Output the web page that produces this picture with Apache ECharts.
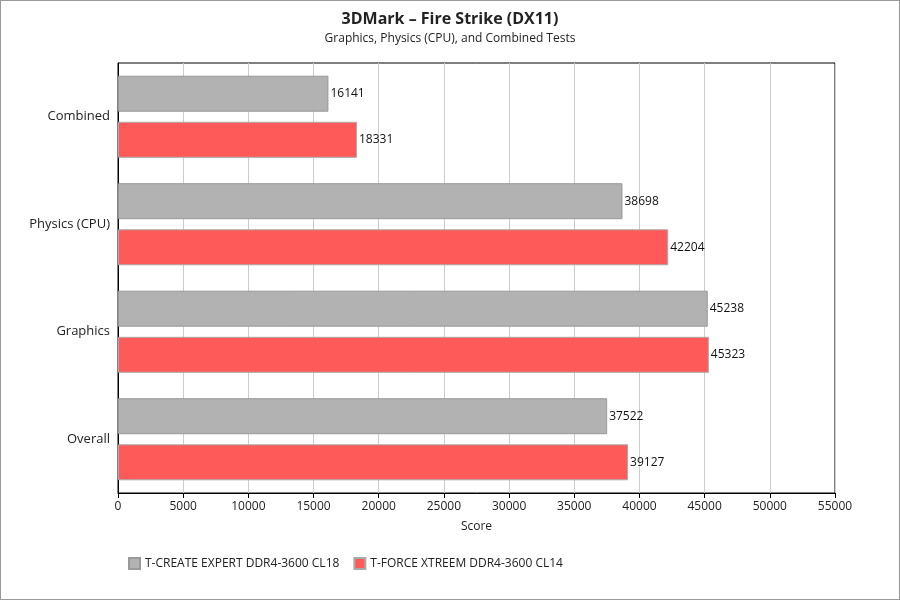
<!DOCTYPE html>
<html>
<head>
<meta charset="utf-8">
<script src="https://cdn.jsdelivr.net/npm/echarts@6/dist/echarts.min.js"></script>
<style>
  html, body { margin: 0; padding: 0; background: #fff; }
  #chart { width: 898px; height: 598px; border: 1px solid #999; }
</style>
</head>
<body>
<div id="chart"></div>
<script>
const categories = ['Overall', 'Graphics', 'Physics (CPU)', 'Combined'];
const createExpert = [37522, 45238, 38698, 16141];
const forceXtreem = [39127, 45323, 42204, 18331];
const seriesNames = ['T-CREATE EXPERT DDR4-3600 CL18', 'T-FORCE XTREEM DDR4-3600 CL14'];

const chart = echarts.init(document.getElementById('chart'), null, { renderer: 'canvas' });
const font = 'Open Sans';

chart.setOption({
  textStyle: { fontFamily: font },
  title: {
    text: '3DMark – Fire Strike (DX11)',
    subtext: 'Graphics, Physics (CPU), and Combined Tests',
    left: 'center',
    top: 5,
    itemGap: 6,
    textStyle: { fontFamily: font, fontSize: 16, fontWeight: 'bold', color: '#222' },
    subtextStyle: { fontFamily: font, fontSize: 12, color: '#222' }
  },
  legend: {
    data: seriesNames,
    left: 122,
    bottom: 24,
    itemWidth: 11,
    itemHeight: 11,
    itemGap: 14,
    icon: 'rect',
    textStyle: { fontFamily: font, fontSize: 12, color: '#222' }
  },
  grid: { left: 117, right: 64, top: 62, bottom: 106, containLabel: false,
    show: true, borderColor: '#000', borderWidth: 1 },
  xAxis: {
    type: 'value',
    min: 0, max: 55000, interval: 5000,
    name: 'Score', nameLocation: 'middle', nameGap: 28,
    nameTextStyle: { fontFamily: font, fontSize: 12, color: '#222' },
    axisLine: { show: true, lineStyle: { color: '#000' } },
    axisTick: { show: true, lineStyle: { color: '#000' } },
    axisLabel: { color: '#222', fontSize: 12, formatter: v => String(v) },
    splitLine: { show: true, lineStyle: { color: '#ccc' } }
  },
  yAxis: {
    type: 'category',
    data: categories,
    axisLine: { show: true, lineStyle: { color: '#000' } },
    axisTick: { show: false },
    axisLabel: { color: '#222', fontSize: 13, margin: 8 }
  },
  series: [
    {
      name: seriesNames[0], type: 'bar', data: createExpert,
      barWidth: 36, barGap: '28%',
      itemStyle: { color: '#b2b2b2', borderColor: '#999', borderWidth: 1 },
      label: { show: true, position: 'right', distance: 2, color: '#111', fontSize: 12 }
    },
    {
      name: seriesNames[1], type: 'bar', data: forceXtreem,
      barWidth: 36, barGap: '28%',
      itemStyle: { color: '#ff5a5a', borderColor: '#aaa', borderWidth: 1 },
      label: { show: true, position: 'right', distance: 2, color: '#111', fontSize: 12 }
    }
  ]
});
</script>
</body>
</html>
